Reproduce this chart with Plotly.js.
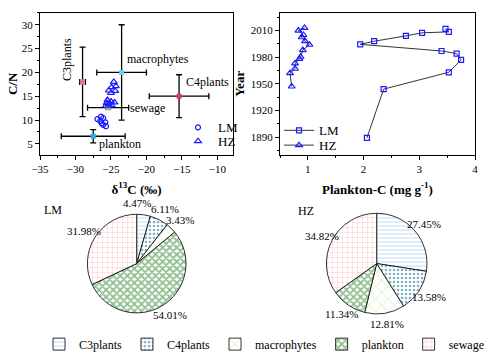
<!DOCTYPE html>
<html>
<head>
<meta charset="utf-8">
<script src="https://cdn.plot.ly/plotly-3.0.1.min.js"></script>
<style>html,body{margin:0;padding:0;background:#fff;font-family:"Liberation Serif",serif}#chart{width:489px;height:359px}</style>
</head>
<body>
<div id="chart"></div>
<script>
// ---- Source end-members (δ13C vs C/N) ----
const sources = ["C3plants", "C4plants", "macrophytes", "plankton", "sewage"];
const srcD13C = [-29.0, -15.4, -23.5, -27.5, -25.4];
const srcCN = [18.0, 15.0, 20.0, 6.6, 12.6];
const srcD13CErr = [0.4, 4.2, 3.5, 4.5, 2.9];
const srcCNErr = [7.3, 4.5, 10.0, 1.4, 0.3];
const srcColors = ["#e07aa0", "#d93a55", "#6cd0f0", "#2ab0e0", "#9aaf8e"];

// ---- Sediment samples ----
const lmD13C = [-26.4, -26.9, -26.1, -26.5, -25.8, -26.3, -25.7, -26.1];
const lmCN = [10.7, 10.2, 10.4, 9.8, 9.5, 9.3, 8.7, 9.0];
const hzD13C = [-24.6, -24.3, -24.9, -25.3, -24.4, -25.0, -25.5, -25.0, -25.6, -24.5, -25.3, -25.7, -24.9];
const hzCN = [18.0, 17.1, 16.9, 16.2, 16.1, 15.7, 14.2, 13.9, 13.6, 13.7, 13.3, 13.0, 13.1];

// ---- Plankton-C profiles ----
const lmYear = [1889, 1944, 1963, 1977, 1984, 1987, 1994.5, 1998, 2004, 2007.5, 2008.5, 2012];
const lmPlanktonC = [2.06, 2.36, 3.53, 3.75, 3.67, 3.40, 1.94, 2.19, 2.76, 3.05, 3.53, 3.47];
const hzYear = [1947, 1962, 1967, 1973, 1978, 1980.5, 1988, 1994, 1998, 2002.5, 2005, 2010, 2013];
const hzPlanktonC = [0.71, 0.68, 0.77, 0.77, 0.85, 0.87, 0.91, 1.03, 0.95, 0.89, 0.92, 0.83, 0.94];

// ---- Source contributions (%) ----
const pieLabels = ["C3plants", "C4plants", "macrophytes", "plankton", "sewage"];
const lmShare = [4.47, 6.11, 3.43, 54.01, 31.98];
const hzShare = [27.45, 13.58, 12.81, 11.34, 34.82];

// tick labels
const cnTicks = [5, 10, 15, 20, 25, 30];
const d13Ticks = [-35, -30, -25, -20, -15, -10];
const yearTicks = [1890, 1920, 1950, 1980, 2010];
const pcTicks = [1, 2, 3, 4];

const FONT = "Liberation Serif";
const W = 489, H = 359;
const px = (a, b) => [a / W, b / W];
const py = (top, bottom) => [1 - bottom / H, 1 - top / H];

const patShapes = ["-", ".", "x", "x", "+"];
const patFg = ["#96c4ee", "#0e6a8c", "#9ad860", "#228022", "#ff8e8e"];
const patSize = [4, 4, 9, 5, 5];
const patSol = [0.3, 0.35, 0.15, 0.6, 0.2];

// pie geometry (pixel centre / radius) used for domains and percentage labels
const pies = [
  { name: "LM", values: lmShare, cx: 136.7, cy: 267.3, r: 50 },
  { name: "HZ", values: hzShare, cx: 376.7, cy: 267.3, r: 51 }
];
const LABEL_DIST = 62;
const PCT_SIZE = 11;

const traces = [
  {
    type: "scatter", mode: "markers", x: srcD13C, y: srcCN,
    xaxis: "x", yaxis: "y", showlegend: false, hoverinfo: "skip",
    marker: { symbol: "square", size: 5, color: srcColors },
    error_x: { type: "data", array: srcD13CErr, color: "#000", thickness: 1.3, width: 3 },
    error_y: { type: "data", array: srcCNErr, color: "#000", thickness: 1.3, width: 3 }
  },
  {
    type: "scatter", mode: "markers", name: "LM", x: lmD13C, y: lmCN,
    xaxis: "x", yaxis: "y", legend: "legend",
    marker: { symbol: "circle-open", size: 5, color: "#1a1aff", line: { width: 1.2 } }
  },
  {
    type: "scatter", mode: "markers", name: "HZ", x: hzD13C, y: hzCN,
    xaxis: "x", yaxis: "y", legend: "legend4",
    marker: { symbol: "triangle-up-open", size: 6, color: "#1a1aff", line: { width: 1.2 } }
  },
  {
    type: "scatter", mode: "lines+markers", name: "LM", x: lmPlanktonC, y: lmYear,
    xaxis: "x2", yaxis: "y2", legend: "legend2",
    line: { color: "#000", width: 0.8 },
    marker: { symbol: "square-open", size: 5, color: "#1a1aff", line: { width: 1.2 } }
  },
  {
    type: "scatter", mode: "lines+markers", name: "HZ", x: hzPlanktonC, y: hzYear,
    xaxis: "x2", yaxis: "y2", legend: "legend5",
    line: { color: "#000", width: 0.8 },
    marker: { symbol: "triangle-up-open", size: 6, color: "#1a1aff", line: { width: 1.2 } }
  }
];

pies.forEach(p => {
  traces.push({
    type: "pie", labels: pieLabels, values: p.values, sort: false, direction: "clockwise",
    domain: { x: px(p.cx - p.r, p.cx + p.r), y: py(p.cy - p.r, p.cy + p.r) }, legend: "legend3",
    textinfo: "none", hoverinfo: "skip",
    marker: { colors: Array(5).fill("#ffffff"), line: { color: "#000", width: 0.8 },
      pattern: { shape: patShapes, fgcolor: patFg, bgcolor: "#ffffff", size: patSize, solidity: patSol, fillmode: "overlay" } }
  });
});

const axisCommon = () => ({
  showline: true, linecolor: "#000", linewidth: 1, mirror: true,
  ticks: "outside", ticklen: 4, tickcolor: "#000", showgrid: false, zeroline: false,
  tickfont: { family: FONT, size: 11, color: "#000" }
});

const annFont = { family: FONT, size: 12, color: "#000" };
const pctFont = { family: FONT, size: PCT_SIZE, color: "#000" };

const annotations = [
  { xref: "x", yref: "y", x: -31.2, y: 22.8, text: "C3plants", textangle: -90, showarrow: false, font: annFont, xanchor: "center", yanchor: "middle" },
  { xref: "x", yref: "y", x: -23.0, y: 22.8, text: "macrophytes", xanchor: "left", yanchor: "middle", showarrow: false, font: annFont },
  { xref: "x", yref: "y", x: -14.7, y: 18.0, text: "C4plants", xanchor: "left", yanchor: "middle", showarrow: false, font: annFont },
  { xref: "x", yref: "y", x: -22.6, y: 12.6, text: "sewage", xanchor: "left", yanchor: "middle", showarrow: false, font: annFont },
  { xref: "x", yref: "y", x: -27.0, y: 5.0, text: "plankton", xanchor: "left", yanchor: "middle", showarrow: false, font: annFont },
  { xref: "paper", yref: "paper", x: 53 / W, y: 1 - 213 / H, text: "LM", xanchor: "center", yanchor: "middle", showarrow: false, font: annFont },
  { xref: "paper", yref: "paper", x: 306 / W, y: 1 - 214 / H, text: "HZ", xanchor: "center", yanchor: "middle", showarrow: false, font: annFont }
];

// percentage labels placed radially outside each slice (derived from the data),
// nudging a label sideways when it would collide with the next one
const textW = s => (s.length - 2) * PCT_SIZE * 0.5 + PCT_SIZE * 0.25 + PCT_SIZE * 0.83;
pies.forEach(p => {
  const total = p.values.reduce((a, b) => a + b, 0);
  let cum = 0;
  const labs = p.values.map(v => {
    const mid = (cum + v / 2) / total * 2 * Math.PI;
    cum += v;
    const t = v.toFixed(2) + "%";
    return { t, x: p.cx + LABEL_DIST * Math.sin(mid), y: p.cy - LABEL_DIST * Math.cos(mid), w: textW(t) };
  });
  for (let i = 0; i < labs.length - 1; i++) {
    const a = labs[i], b = labs[i + 1];
    if (Math.abs(a.y - b.y) < 9) {
      const overlap = (a.w + b.w) / 2 - Math.abs(a.x - b.x);
      if (overlap > 0) a.x += (a.x < b.x ? -overlap : overlap);
    }
  }
  labs.forEach(l => annotations.push({ xref: "paper", yref: "paper", x: l.x / W, y: 1 - l.y / H,
    xanchor: "center", yanchor: "middle", text: l.t, showarrow: false, font: pctFont }));
});

const legendBase = (x, y) => ({ x: x / W, y: 1 - y / H, xanchor: "left", yanchor: "top",
  bgcolor: "rgba(0,0,0,0)", font: { family: FONT, size: 13, color: "#000" }, itemwidth: 30 });

const layout = {
  width: W, height: H,
  margin: { l: 0, r: 0, t: 0, b: 0 },
  paper_bgcolor: "#fff", plot_bgcolor: "#fff",
  font: { family: FONT, size: 11, color: "#000" },
  xaxis: Object.assign(axisCommon(), {
    domain: px(40, 233), range: [-35, -7.8], tickvals: d13Ticks, anchor: "y",
    minor: { dtick: 2.5, ticklen: 2, tickcolor: "#000", ticks: "outside" },
    title: { text: "<b>δ<sup>13</sup>C (‰)</b>", font: { family: FONT, size: 13 }, standoff: 10 }
  }),
  yaxis: Object.assign(axisCommon(), {
    domain: py(13, 157), range: [2.7, 32.5], tickvals: cnTicks, anchor: "x",
    minor: { dtick: 2.5, ticklen: 2, tickcolor: "#000", ticks: "outside" },
    title: { text: "<b>C/N</b>", font: { family: FONT, size: 13 }, standoff: 1 }
  }),
  xaxis2: Object.assign(axisCommon(), {
    domain: px(280, 475), range: [0.5, 4.0], tickvals: pcTicks, anchor: "y2",
    minor: { dtick: 0.5, ticklen: 2, tickcolor: "#000", ticks: "outside" },
    title: { text: "<b>Plankton-C (mg g<sup>-1</sup>)</b>", font: { family: FONT, size: 13 }, standoff: 10 }
  }),
  yaxis2: Object.assign(axisCommon(), {
    domain: py(13, 157), range: [1870, 2030], tickvals: yearTicks, anchor: "x2",
    minor: { dtick: 15, ticklen: 2, tickcolor: "#000", ticks: "outside" },
    title: { text: "<b>Year</b>", font: { family: FONT, size: 13 }, standoff: 3 }
  }),
  legend: legendBase(178, 114),
  legend4: legendBase(178, 128),
  legend2: legendBase(279, 117),
  legend5: legendBase(279, 132),
  legend3: {
    orientation: "h", x: 44 / W, y: 1 - 349 / H, xanchor: "left", yanchor: "middle",
    bgcolor: "rgba(0,0,0,0)", font: { family: FONT, size: 12, color: "#000" }, itemwidth: 30
  },
  annotations: annotations
};

Plotly.newPlot("chart", traces, layout, { staticPlot: true, displayModeBar: false });
</script>
</body>
</html>
